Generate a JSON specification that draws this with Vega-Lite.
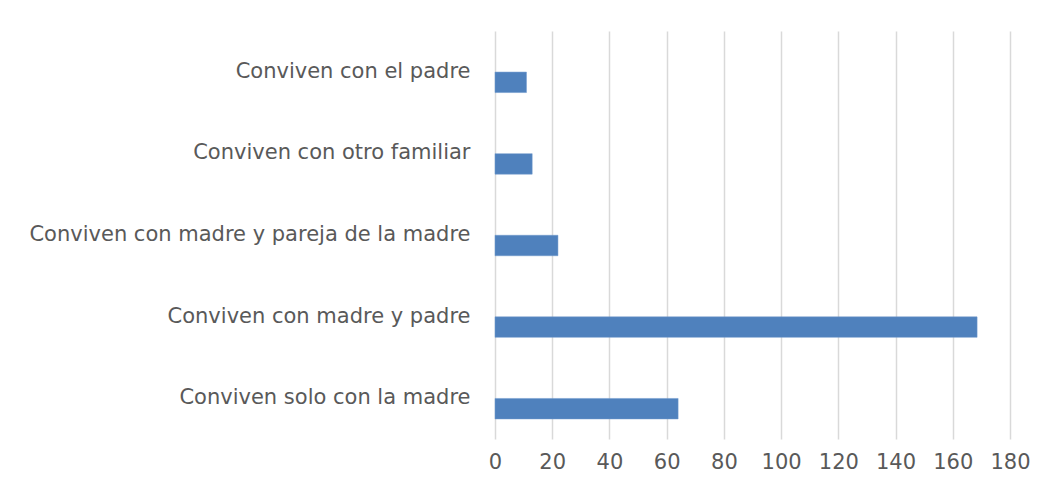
{
  "$schema": "https://vega.github.io/schema/vega-lite/v6.json",
  "autosize": {"type": "none"},
  "width": 515,
  "height": 408,
  "padding": {"left": 495, "top": 31, "right": 40, "bottom": 47},
  "background": "white",
  "data": {
    "values": [
      {"categoria": "Conviven con el padre", "valor": 11},
      {"categoria": "Conviven con otro familiar", "valor": 13},
      {"categoria": "Conviven con madre y pareja de la madre", "valor": 22},
      {"categoria": "Conviven con madre y padre", "valor": 168.5},
      {"categoria": "Conviven solo con la madre", "valor": 64}
    ]
  },
  "mark": {"type": "bar", "color": "#4f81bd", "height": 20.5, "yOffset": 10.5, "stroke": "#6f98cc", "strokeWidth": 0.5},
  "encoding": {
    "y": {
      "field": "categoria",
      "type": "nominal",
      "sort": null,
      "scale": {"paddingInner": 0, "paddingOuter": 0},
      "axis": {
        "title": null,
        "domain": false,
        "ticks": false,
        "grid": false,
        "labelPadding": 25,
        "labelFont": "DejaVu Sans",
        "labelFontSize": 21,
        "labelColor": "#595959",
        "labelLimit": 600
      }
    },
    "x": {
      "field": "valor",
      "type": "quantitative",
      "scale": {"domain": [0, 180], "nice": false},
      "axis": {
        "title": null,
        "values": [0, 20, 40, 60, 80, 100, 120, 140, 160, 180],
        "domain": false,
        "ticks": false,
        "grid": true,
        "gridColor": "#d9d9d9",
        "gridWidth": 1.5,
        "labelPadding": 12,
        "labelFlush": false,
        "labelOverlap": false,
        "labelFont": "DejaVu Sans",
        "labelFontSize": 21,
        "labelColor": "#595959"
      }
    }
  },
  "config": {"view": {"stroke": null}}
}
